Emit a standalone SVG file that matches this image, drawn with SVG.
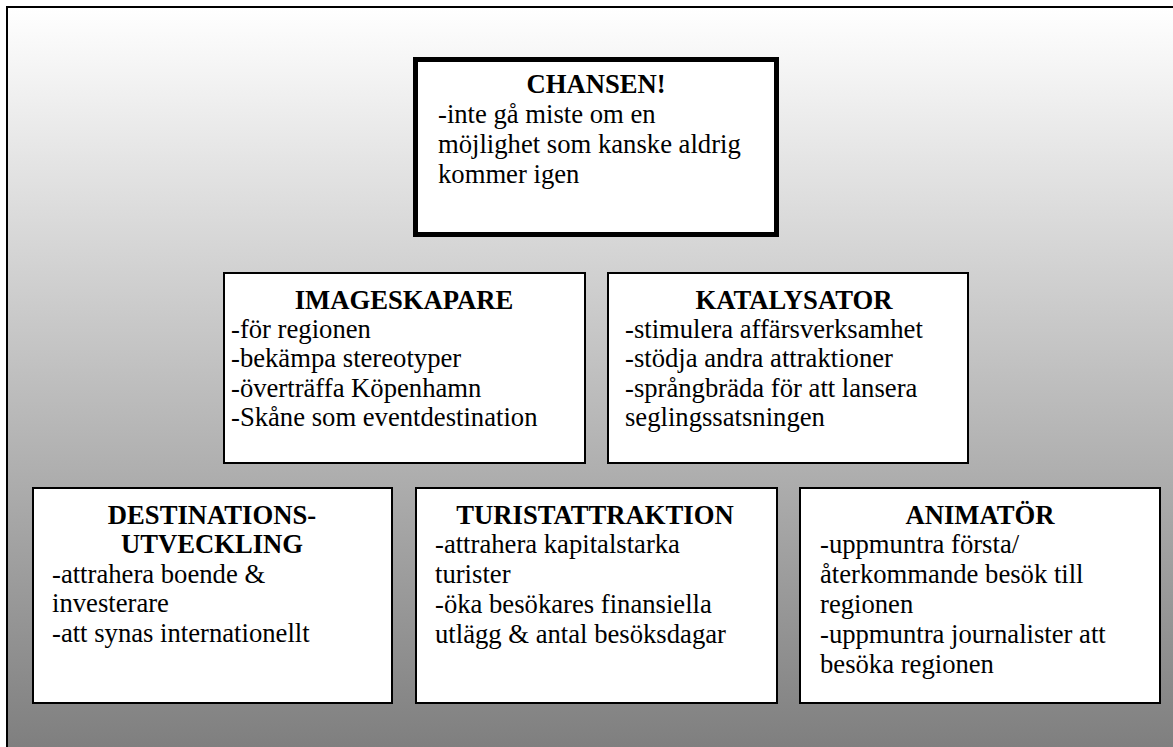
<svg xmlns="http://www.w3.org/2000/svg" width="1173" height="747" viewBox="0 0 1173 747">
<defs>
<linearGradient id="bg" x1="0" y1="0" x2="0" y2="1">
<stop offset="0" stop-color="#ffffff"/>
<stop offset="1" stop-color="#7f7f7f"/>
</linearGradient>
<style>
.box{fill:#fff;stroke:#000;stroke-width:2}
.thick{fill:#fff;stroke:#000;stroke-width:5}
.h{font-weight:bold;text-anchor:middle}
</style>
</defs>
<rect x="0" y="0" width="1173" height="747" fill="#fff"/>
<rect x="7" y="7" width="1166" height="740" fill="url(#bg)"/>
<path d="M7 747 V7 H1173" fill="none" stroke="#000" stroke-width="2"/>
<g id="connectors"></g>
<g font-family="Liberation Serif, Times New Roman, serif" font-size="26.67" fill="#000">
<g id="chansen">
<rect class="thick" x="415.5" y="59.5" width="361" height="175"/>
<text class="h" x="596" y="93">CHANSEN!</text>
<text x="438" y="123">-inte gå miste om en</text>
<text x="438" y="153">möjlighet som kanske aldrig</text>
<text x="438" y="183">kommer igen</text>
</g>
<g id="imageskapare">
<rect class="box" x="224" y="273" width="361" height="190"/>
<text class="h" x="404" y="309">IMAGESKAPARE</text>
<text x="231" y="338">-för regionen</text>
<text x="231" y="367">-bekämpa stereotyper</text>
<text x="231" y="397">-överträffa Köpenhamn</text>
<text x="231" y="426">-Skåne som eventdestination</text>
</g>
<g id="katalysator">
<rect class="box" x="608" y="273" width="360" height="190"/>
<text class="h" x="794" y="309">KATALYSATOR</text>
<text x="625" y="338">-stimulera affärsverksamhet</text>
<text x="625" y="367">-stödja andra attraktioner</text>
<text x="625" y="397">-språngbräda för att lansera</text>
<text x="625" y="426">seglingssatsningen</text>
</g>
<g id="destinationsutveckling">
<rect class="box" x="33" y="488" width="359" height="215"/>
<text class="h" x="212" y="524">DESTINATIONS-</text>
<text class="h" x="212" y="553">UTVECKLING</text>
<text x="52" y="583">-attrahera boende &amp;</text>
<text x="52" y="612">investerare</text>
<text x="52" y="642">-att synas internationellt</text>
</g>
<g id="turistattraktion">
<rect class="box" x="416" y="488" width="361" height="215"/>
<text class="h" x="595" y="524">TURISTATTRAKTION</text>
<text x="435" y="553">-attrahera kapitalstarka</text>
<text x="435" y="583">turister</text>
<text x="435" y="613">-öka besökares finansiella</text>
<text x="435" y="643">utlägg &amp; antal besöksdagar</text>
</g>
<g id="animator">
<rect class="box" x="800" y="488" width="360" height="215"/>
<text class="h" x="980" y="524">ANIMATÖR</text>
<text x="820" y="553">-uppmuntra första/</text>
<text x="820" y="583">återkommande besök till</text>
<text x="820" y="613">regionen</text>
<text x="820" y="643">-uppmuntra journalister att</text>
<text x="820" y="673">besöka regionen</text>
</g>
</g>
</svg>
